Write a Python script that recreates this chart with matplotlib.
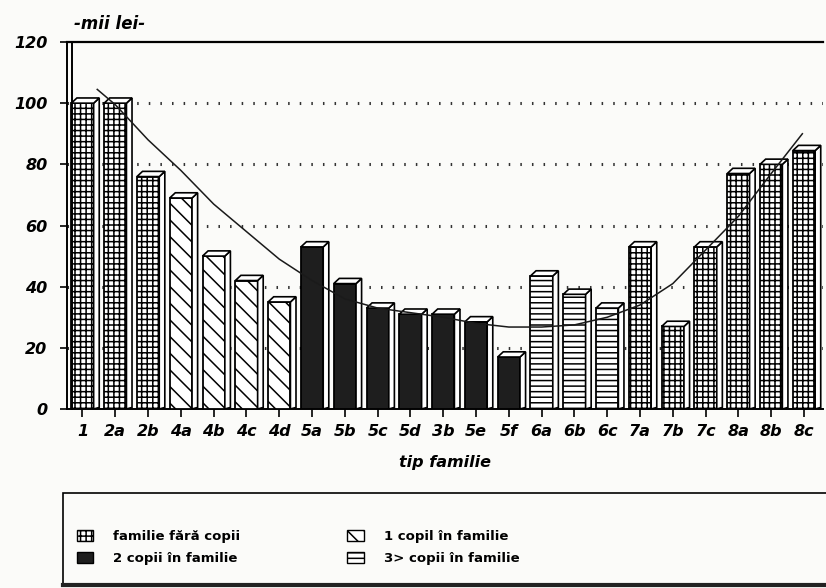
import matplotlib
matplotlib.use("Agg")
import matplotlib.pyplot as plt
from matplotlib.patches import Patch, Polygon, Rectangle
from matplotlib.lines import Line2D
import numpy as np

categories = ["1", "2a", "2b", "4a", "4b", "4c", "4d", "5a", "5b", "5c", "5d", "3b",
              "5e", "5f", "6a", "6b", "6c", "7a", "7b", "7c", "8a", "8b", "8c"]
values = [100, 100, 76, 69, 50, 42, 35, 53, 41, 33, 31, 31,
          28.5, 17, 43.5, 37.5, 33, 53, 27, 53, 77, 80, 84.5]
groups = ["fara", "fara", "fara", "c1", "c1", "c1", "c1", "c2", "c2", "c2", "c2", "c2",
          "c2", "c2", "c3", "c3", "c3", "fara", "fara", "fara", "fara", "fara", "fara"]

trend_x = [0.45, 1, 2, 3, 4, 5, 6, 7, 8, 9, 10, 11, 12, 13, 14, 15, 16, 17, 18, 19, 20, 21, 21.95]
trend_y = [104.5, 99.5, 88, 78, 67, 58, 49, 42, 36, 33, 31.5, 30, 28, 26.8, 26.8, 27.5,
           30, 34, 41, 52, 63, 77, 90]

legend_labels = {
    "fara": "familie fără copii",
    "c1": "1 copil în familie",
    "c2": "2 copii în familie",
    "c3": "3> copii în familie",
}
yticks = [0, 20, 40, 60, 80, 100, 120]

styles = {
    "fara": dict(facecolor="white", hatch="+++"),
    "c1": dict(facecolor="white", hatch="\\\\"),
    "c2": dict(facecolor="#1e1e1e", hatch=None),
    "c3": dict(facecolor="white", hatch="---"),
}

plt.rcParams["hatch.linewidth"] = 1.1
plt.rcParams["font.family"] = ["DejaVu Sans"]

W, H = 826, 588
bg = "#fbfbf9"
fig = plt.figure(figsize=(W / 100, H / 100), dpi=100, facecolor=bg)
left_px, right_px, top_px, bot_px = 67, 823, 42, 409
ax = fig.add_axes([left_px / W, 1 - bot_px / H, (right_px - left_px) / W, (bot_px - top_px) / H])
ax.set_facecolor(bg)

step = 32.8
x = np.arange(len(categories))
xl = -(82.5 - left_px) / step
xr = len(categories) - 1 + (right_px - 804) / step
ax.set_xlim(xl, xr)
ax.set_ylim(0, 120)

bw = 0.68
dx, dy = 0.17, 1.7
for xi, v, g in zip(x, values, groups):
    st = styles[g]
    ax.bar(xi, v, width=bw, color=st["facecolor"], hatch=st["hatch"],
           edgecolor="black", linewidth=1.3, zorder=3)
    side = Polygon([(xi + bw / 2, 0), (xi + bw / 2 + dx, dy * 0.3),
                    (xi + bw / 2 + dx, v + dy), (xi + bw / 2, v)],
                   closed=True, facecolor="white", edgecolor="black", lw=1.2, zorder=3)
    cap = Polygon([(xi - bw / 2, v), (xi - bw / 2 + dx, v + dy),
                   (xi + bw / 2 + dx, v + dy), (xi + bw / 2, v)],
                  closed=True, facecolor="white", edgecolor="black", lw=1.2, zorder=3)
    ax.add_patch(side)
    ax.add_patch(cap)

# trend curve
ax.plot(trend_x, trend_y, color="#1a1a1a", lw=1.1, zorder=4)

# dotted grid
for yv in yticks[1:-1]:
    ax.axhline(yv, color="#333333", lw=2.2, linestyle=(0, (0.5, 3.3)), zorder=1)

ax.spines["right"].set_visible(False)
ax.spines["top"].set_linewidth(1.6)
ax.spines["left"].set_linewidth(1.4)
ax.spines["bottom"].set_linewidth(1.4)
# double left rail
ax.plot([5 / (right_px - left_px)] * 2, [0, 1], transform=ax.transAxes,
        color="black", lw=1.4, zorder=5, clip_on=False)

tick_font = dict(family="DejaVu Sans", weight="bold", style="italic")
ax.set_yticks(yticks)
ax.set_yticklabels([str(t) for t in yticks], fontsize=11.5, **tick_font)
ax.set_xticks(x)
ax.set_xticklabels(categories, fontsize=11.5, **tick_font)
ax.tick_params(axis="y", direction="out", length=5, width=1.2, pad=9)
ax.tick_params(axis="x", direction="out", length=6, width=1.2, pad=5)

ax.set_xlabel("tip familie", fontsize=11.5, labelpad=4, **tick_font)
ax.xaxis.set_label_coords((445 - left_px) / (right_px - left_px), -(463 - bot_px) / (bot_px - top_px))
ax.xaxis.label.set_va("center")
fig.text(74 / W, 1 - 24 / H, "-mii lei-", fontsize=12, va="center", ha="left", **tick_font)

# legend frame
fig.patches.append(Rectangle((63 / W, 1 - 586 / H), (W + 5 - 63) / W, (586 - 493) / H,
                             transform=fig.transFigure, facecolor="none",
                             edgecolor="black", lw=1.2))
fig.lines.append(Line2D([63 / W, 1], [1 - 585 / H] * 2, transform=fig.transFigure,
                        color="#222222", lw=3))

order = ["fara", "c2", "c1", "c3"]
handles = [Patch(facecolor=styles[k]["facecolor"], hatch=styles[k]["hatch"],
                 edgecolor="black", lw=1.0) for k in order]
labels = [legend_labels[k] for k in order]
fig.legend(handles, labels, ncol=2, loc="upper left",
           bbox_to_anchor=(77 / W, 1 - 530 / H), frameon=False,
           prop=dict(family="DejaVu Sans", weight="bold", size=9.5),
           handlelength=1.25, handleheight=0.85, handletextpad=1.5,
           columnspacing=8.1, labelspacing=0.7, borderpad=0, borderaxespad=0)

fig.savefig("out.png", dpi=100, facecolor=bg)
